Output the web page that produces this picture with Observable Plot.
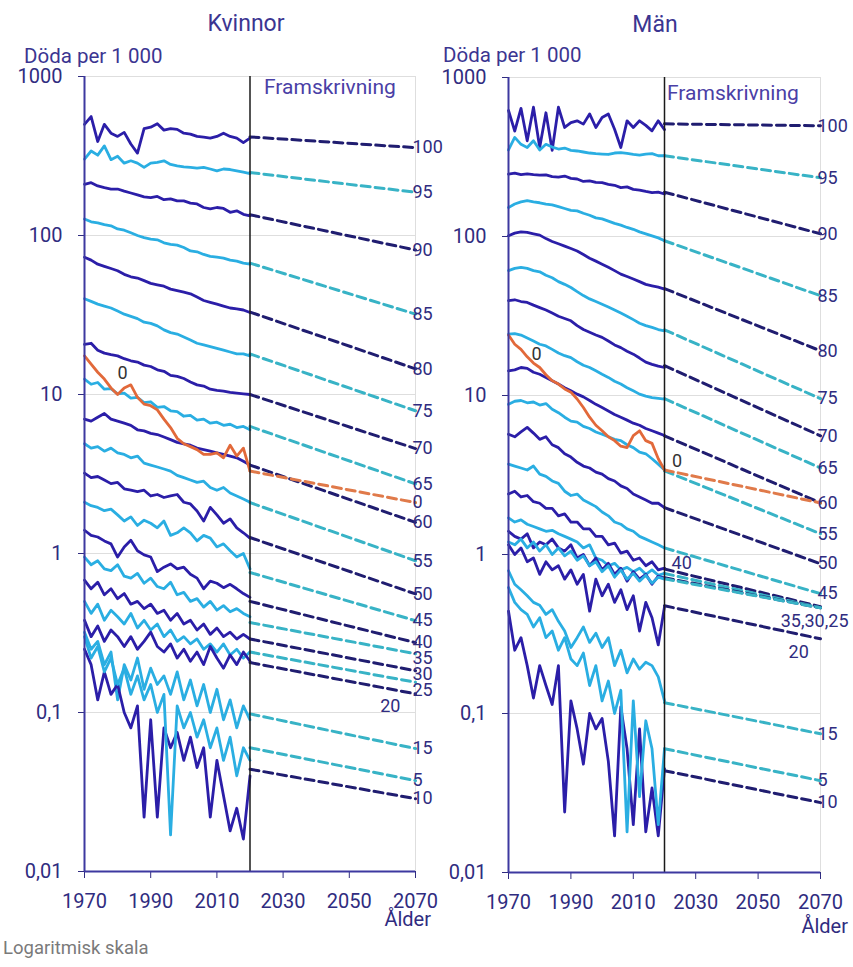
<!DOCTYPE html>
<html><head><meta charset="utf-8">
<script src="https://cdn.jsdelivr.net/npm/d3@7"></script>
<script src="https://cdn.jsdelivr.net/npm/@observablehq/plot@0.6"></script>
<style>
body{margin:0;background:#fff;font-family:Roboto,sans-serif;}
#wrap{position:relative;width:853px;height:967px;overflow:hidden;background:#fff;}
#wrap > svg{position:absolute;top:0;}
</style></head><body><div id="wrap"></div>
<script>
// ---------- data ----------
const years = [1970,1972,1974,1976,1978,1980,1982,1984,1986,1988,1990,1992,1994,1996,1998,2000,2002,2004,2006,2008,2010,2012,2014,2016,2018,2020];
const ages = [0,5,10,15,20,25,30,35,40,45,50,55,60,65,70,75,80,85,90,95,100];
const xTicks = [1970,1990,2010,2030,2050,2070];
const yTicks = [0.01,0.1,1,10,100,1000];
const yTickLabels = ["0,01","0,1","1","10","100","1000"];

// Kvinnor, deaths per 1 000 (historical)
const kv0 = [17.5,15.5,13.8,12.5,11,10,11,11.5,9.6,8.7,8.5,8,7,6.2,5.3,4.9,4.7,4.5,4.2,4.2,4.3,4.0,4.8,4.1,4.6,3.3];
const kv5 = [0.3,0.22,0.26,0.18,0.22,0.15,0.19,0.13,0.17,0.12,0.15,0.1,0.13,0.017,0.11,0.08,0.1,0.07,0.09,0.06,0.08,0.05,0.07,0.04,0.06,0.05];
const kv10 = [0.25,0.2,0.12,0.18,0.13,0.15,0.1,0.08,0.11,0.022,0.09,0.022,0.08,0.06,0.075,0.05,0.07,0.045,0.06,0.022,0.05,0.03,0.018,0.025,0.016,0.04];
const kv15 = [0.32,0.25,0.28,0.2,0.24,0.12,0.2,0.16,0.22,0.14,0.19,0.15,0.17,0.13,0.18,0.12,0.16,0.11,0.15,0.1,0.14,0.09,0.12,0.08,0.11,0.09];
const kv20 = [0.38,0.3,0.35,0.28,0.33,0.3,0.26,0.3,0.25,0.28,0.32,0.26,0.24,0.27,0.22,0.25,0.21,0.24,0.2,0.26,0.22,0.19,0.23,0.2,0.24,0.21];
const kv25 = [0.5,0.42,0.48,0.38,0.44,0.4,0.36,0.42,0.34,0.38,0.33,0.36,0.3,0.33,0.28,0.3,0.27,0.29,0.25,0.27,0.24,0.27,0.23,0.25,0.22,0.24];
const kv30 = [0.68,0.6,0.66,0.55,0.6,0.52,0.56,0.48,0.5,0.45,0.48,0.42,0.44,0.38,0.42,0.36,0.38,0.33,0.36,0.31,0.34,0.3,0.32,0.29,0.31,0.29];
const kv35 = [0.95,0.85,0.9,0.8,0.78,0.85,0.72,0.7,0.75,0.65,0.7,0.62,0.6,0.66,0.55,0.57,0.5,0.52,0.46,0.5,0.44,0.47,0.43,0.45,0.42,0.4];
const kv40 = [1.4,1.3,1.27,1.2,1.15,0.95,1.1,1.21,1.04,0.98,0.95,0.77,0.82,0.86,0.8,0.82,0.74,0.7,0.6,0.67,0.65,0.61,0.64,0.6,0.56,0.53];
const kv45 = [2.1,2.0,1.95,1.86,1.9,1.75,1.6,1.7,1.5,1.62,1.55,1.45,1.6,1.3,1.35,1.45,1.35,1.2,1.3,1.25,1.1,1.15,1.04,0.95,1.0,0.8];
const kv50 = [3.2,3.0,3.05,2.9,2.75,2.8,2.55,2.5,2.45,2.5,2.3,2.35,2.25,2.3,2.35,2.1,2.05,1.85,1.6,1.95,1.75,1.55,1.65,1.45,1.35,1.25];
const kv55 = [4.9,4.6,4.7,4.4,4.6,4.3,4.2,4.0,4.1,3.7,3.6,3.5,3.4,3.3,3.1,3.0,2.9,2.8,2.85,2.6,2.5,2.6,2.4,2.3,2.2,2.1];
const kv60 = [7.0,6.8,7.2,7.6,7.0,6.8,6.6,6.4,6.0,5.9,5.7,5.6,5.4,5.2,5.0,4.9,4.8,4.6,4.5,4.4,4.3,4.2,4.1,4.0,3.8,3.6];
const kv65 = [12.5,11.6,11.9,10.8,10.9,10.1,10.2,9.5,9.6,8.9,9.0,8.3,8.4,7.9,7.8,7.3,7.4,6.9,7.0,6.6,6.7,6.4,6.5,6.2,6.3,6.0];
const kv70 = [20.7,21,19,18.2,17.8,17.5,16.8,16.3,16,15.3,15,14.3,14,13.2,13,12.6,12,11.5,11.3,10.8,10.6,10.5,10.3,10.2,10.1,10];
const kv75 = [40,38.5,37,36,35,33.5,32,31,30,28.5,28,27,25.5,24.5,24,23,22,21,20.5,20,19.5,19,18.5,18,18,17.5];
const kv80 = [73,70,66,64,62,60,57,55,54,52,50,49,48,46,45,44,43,41,39,38,37,36,35,34.5,34,32.8];
const kv85 = [127,122,120,117,115,110,108,104,100,97,95,94,90,88,87,84,80,79,76,74,73,72,70,69,67,66];
const kv90 = [210,215,205,200,196,196,190,185,180,175,173,176,168,170,165,165,160,158,150,147,150,148,140,143,136,133];
const kv95 = [302,340,320,366,300,315,285,295,285,268,285,288,295,280,274,270,268,265,268,262,255,262,260,255,250,245];
const kv100 = [500,560,390,500,440,420,445,376,330,470,480,505,460,470,465,440,434,420,415,410,420,440,420,410,384,410];
// Kvinnor projection (Framskrivning), per age in order of `ages`
const kvProj2020 = [3.3,0.06,0.044,0.098,0.206,0.24,0.29,0.368,0.5,0.76,1.26,2.09,3.6,6.3,10,18,33,67,135,249,417];
const kvProj2070 = [2.09,0.0373,0.0287,0.0593,0.131,0.155,0.183,0.234,0.275,0.378,0.557,0.9,1.57,2.74,4.57,7.9,14.5,32,81,187,357];

// Män, deaths per 1 000 (historical)
const mn0 = [24,21,19.5,17.5,16,15,13.5,12.4,11.8,11,10.5,9.5,8.4,7.3,6.5,6.0,5.5,5.2,4.8,4.7,5.6,6.0,5.2,5.0,4.0,3.4];
const mn5 = [0.62,0.5,0.45,0.42,0.35,0.4,0.3,0.33,0.25,0.3,0.22,0.2,0.24,0.15,0.2,0.12,0.16,0.1,0.14,0.018,0.12,0.03,0.09,0.06,0.02,0.06];
const mn10 = [0.44,0.25,0.3,0.2,0.125,0.2,0.15,0.114,0.2,0.024,0.12,0.08,0.048,0.1,0.08,0.093,0.05,0.017,0.11,0.06,0.02,0.08,0.018,0.034,0.017,0.045];
const mn15 = [0.79,0.65,0.6,0.55,0.5,0.48,0.42,0.45,0.38,0.33,0.26,0.3,0.35,0.28,0.32,0.26,0.3,0.2,0.25,0.18,0.22,0.19,0.21,0.2,0.17,0.12];
const mn20 = [1.15,1.0,1.1,0.9,0.95,0.75,0.9,0.8,0.85,0.7,0.8,0.65,0.75,0.44,0.7,0.55,0.65,0.5,0.6,0.45,0.55,0.33,0.5,0.4,0.27,0.47];
const mn25 = [1.2,1.15,1.25,1.1,1.2,1.05,1.15,1.0,1.1,0.98,1.05,0.92,0.98,0.85,0.9,0.78,0.85,0.72,0.8,0.7,0.76,0.68,0.74,0.66,0.72,0.7];
const mn30 = [1.4,1.3,1.25,1.35,1.1,1.2,1.15,1.25,1.1,1.05,1.15,0.95,1.0,0.85,0.95,0.8,0.88,0.75,0.82,0.68,0.78,0.7,0.75,0.65,0.73,0.71];
const mn35 = [1.7,1.6,1.65,1.55,1.5,1.45,1.4,1.42,1.35,1.3,1.25,1.2,1.1,1.15,0.95,0.92,0.85,0.88,0.8,0.83,0.78,0.82,0.75,0.8,0.74,0.76];
const mn40 = [2.4,2.5,2.3,2.35,2.15,2.1,1.95,1.95,1.75,1.8,1.6,1.6,1.45,1.45,1.3,1.3,1.15,1.18,1.02,1.05,0.92,0.95,0.85,0.9,0.8,0.82];
const mn45 = [3.7,3.6,3.5,3.4,3.6,3.2,3.1,2.9,2.8,2.5,2.35,2.4,2.2,2.1,2.0,1.85,1.75,1.6,1.55,1.45,1.4,1.3,1.25,1.2,1.15,1.1];
const mn50 = [5.7,5.5,5.9,6.3,5.8,5.3,5.5,4.9,4.7,4.3,4.1,3.8,3.6,3.5,3.3,3.2,3.0,2.9,2.7,2.6,2.4,2.3,2.2,2.1,2.1,1.97];
const mn55 = [8.8,9.2,9.3,9.0,9.1,8.7,8.9,8.2,7.8,7.3,6.9,6.8,6.4,6.2,5.9,5.7,5.5,5.3,5.2,4.9,4.7,4.4,4.3,4.0,3.7,3.4];
const mn60 = [14.3,14.5,15,14.8,14,13.6,13,12.4,11.8,11.2,10.7,10.2,9.8,9.3,8.8,8.4,8,7.6,7.3,7,6.7,6.5,6.2,6.0,5.8,5.6];
const mn65 = [24.3,24.5,24,23,22,21,20.5,19.5,18.5,17.8,17.3,16.3,15.5,15,14.3,13.6,13,12.3,11.8,11.2,10.7,10.2,9.9,9.7,9.6,9.5];
const mn70 = [39.5,40,39,38.5,37,35.7,34.5,33,31.5,30.5,29.5,27.5,26,25,24,23.2,22,20.8,20,19,18.2,17.2,16.2,15.7,15.3,15];
const mn75 = [61,63,64,63,61,60,57,55,52,50,47.8,45,42.5,40.5,39,37.5,36,34.5,33,31.5,30,28.5,27.5,26.8,26,25.5];
const mn80 = [101,105,107,106,104,102,97,93,90,87,84,81,77,73,70,67,64,61,58,56,54,52,50,49,48,46.7];
const mn85 = [152,160,165,168,165,163,160,158,154,150,146,145,140,136,131,129,125,121,118,114,111,107,104,101,98,94];
const mn90 = [247,250,245,248,245,243,244,238,236,240,232,230,222,224,219,218,213,210,203,205,198,196,192,189,190,185];
const mn95 = [350,420,380,363,400,350,380,365,355,360,348,345,340,335,332,330,328,335,337,333,328,325,330,332,322,322];
const mn100 = [620,460,640,400,650,363,600,348,650,485,520,534,509,590,485,560,590,473,363,534,485,534,500,462,534,470];
// Män projection (Framskrivning)
const mnProj2020 = [3.4,0.06,0.0437,0.117,0.476,0.703,0.714,0.76,0.81,1.1,1.97,3.36,5.58,9.55,15.4,25.9,47,94,190,322,511];
const mnProj2070 = [2.11,0.0378,0.0275,0.0745,0.295,0.462,0.462,0.462,0.47,0.567,0.875,1.35,2.11,3.5,5.58,9.55,19.1,42.4,104,234,497];

const kvHist = [kv0,kv5,kv10,kv15,kv20,kv25,kv30,kv35,kv40,kv45,kv50,kv55,kv60,kv65,kv70,kv75,kv80,kv85,kv90,kv95,kv100];
const mnHist = [mn0,mn5,mn10,mn15,mn20,mn25,mn30,mn35,mn40,mn45,mn50,mn55,mn60,mn65,mn70,mn75,mn80,mn85,mn90,mn95,mn100];

// ---------- drawing ----------
const C = {dark:"#2b1ea8", light:"#2aaee2", darkP:"#201d70", lightP:"#38b3c6",
           orange:"#e2693a", orangeP:"#e07a4a", axis:"#3d38a0", text:"#302c80", grid:"#dedede"};

function panel(cfg){
  const {hist,p20,p70,endSkip,specials,W,H,mL,mR,mT,mB,left} = cfg;
  const ys = d3.scaleLog([0.01,1000],[H-mB, mT]);
  const kind = a => a===0 ? "orange" : (a%10===0 ? "dark" : "light");
  const hS = {dark:C.dark, light:C.light, orange:C.orange};
  const pS = {dark:C.darkP, light:C.lightP, orange:C.orangeP};
  const histRows = ages.map((a,i)=> hist[i].map((v,j)=>({age:a, year:years[j], v})));
  const projRows = ages.map((a,i)=> [{age:a,year:2020,v:p20[i]},{age:a,year:2070,v:p70[i]}]);
  const at = (age, year) => {
    const i = ages.indexOf(age);
    if (year >= 2020){ const t=(year-2020)/50; return Math.exp(Math.log(p20[i])*(1-t)+Math.log(p70[i])*t); }
    const s = hist[i], f=(year-1970)/2, j=Math.min(Math.floor(f), s.length-2), t=f-j;
    return Math.exp(Math.log(s[j])*(1-t)+Math.log(s[j+1])*t);
  };
  // end labels with simple collision avoidance
  const ends = ages.map((a,i)=>({text:String(a), py:ys(p70[i]), age:a})).filter(d=>!endSkip.includes(d.age));
  ends.sort((a,b)=>a.py-b.py);
  for (let i=1;i<ends.length;i++) if (ends[i].py < ends[i-1].py+16) ends[i].py = ends[i-1].py+16;
  ends.forEach(d=>{ d.year=2070; d.v=ys.invert(d.py); });
  const order = ages.slice().reverse();
  const marks = [
    Plot.ruleY(yTicks.slice(1), {stroke:C.grid}),
    Plot.ruleX([2070], {stroke:C.grid}),
    ...order.map(a => Plot.line(projRows[ages.indexOf(a)], {x:"year", y:"v", stroke:pS[kind(a)], strokeWidth:3, strokeDasharray:"9,5"})),
    ...order.map(a => Plot.line(histRows[ages.indexOf(a)], {x:"year", y:"v", stroke:hS[kind(a)], strokeWidth:2.8, strokeLinejoin:"round"})),
    Plot.ruleX([2020], {stroke:"#1a1a1a", strokeWidth:1.5}),
    Plot.ruleX([1970], {stroke:C.axis, strokeWidth:2}),
    Plot.ruleY([0.01], {stroke:C.axis, strokeWidth:2}),
    Plot.text(ends, {x:"year", y:"v", text:"text", textAnchor:"start", dx:-3, fill:C.text, fontSize:18}),
    ...specials.map(s => Plot.text([{x:s.year, y:at(s.age, s.year), t:s.text}],
        {x:"x", y:"y", text:"t", dx:s.dx||0, dy:s.dy||0, textAnchor:s.anchor||"middle", fill:s.fill||C.text, fontSize:18}))
  ];
  const svg = Plot.plot({
    width:W, height:H, marginLeft:mL, marginRight:mR, marginTop:mT, marginBottom:mB,
    style:{fontFamily:"Roboto, sans-serif", fontSize:"20px", color:C.text, background:"transparent", overflow:"visible"},
    x:{domain:[1970,2070], ticks:xTicks, tickFormat:d=>String(d), tickSize:7, tickPadding:15, label:null},
    y:{type:"log", domain:[0.01,1000], ticks:yTicks, tickFormat:d=>yTickLabels[yTicks.indexOf(d)], tickSize:6, tickPadding:16, label:null},
    marks
  });
  svg.style.left = left + "px";
  return svg;
}

const wrap = document.getElementById("wrap");
wrap.appendChild(panel({
  hist:kvHist, p20:kvProj2020, p70:kvProj2070, endSkip:[20],
  specials:[
    {text:"0", age:0, year:1981.5, dy:-16, fill:"#333"},
    {text:"20", age:20, year:2062.4, dy:17}
  ],
  W:437, H:967, mL:84, mR:22, mT:76, mB:96, left:0
}));
wrap.appendChild(panel({
  hist:mnHist, p20:mnProj2020, p70:mnProj2070, endSkip:[0,20,25,30,35,40],
  specials:[
    {text:"0", age:0, year:1979, dy:-11, fill:"#333"},
    {text:"0", age:0, year:2024, dy:-11, fill:"#333"},
    {text:"40", age:40, year:2025.5, dy:-10},
    {text:"35,30,25", age:35, year:2070, anchor:"end", dx:28, dy:13},
    {text:"20", age:20, year:2063, dy:18}
  ],
  W:416, H:967, mL:71, mR:33, mT:77, mB:95, left:437
}));

// titles and annotations
const ov = d3.create("svg").attr("width",853).attr("height",967)
  .style("left","0px").style("pointer-events","none").attr("font-family","Roboto, sans-serif");
const T = [
  {t:"Kvinnor", x:246, y:31, a:"middle", s:23, c:"#3b3591"},
  {t:"Män", x:655, y:32, a:"middle", s:23, c:"#3b3591"},
  {t:"Döda per 1 000", x:24, y:63, a:"start", s:20.5, c:"#3b3591"},
  {t:"Döda per 1 000", x:443, y:62, a:"start", s:20.5, c:"#3b3591"},
  {t:"Framskrivning", x:264, y:94, a:"start", s:21, c:"#4a40a6"},
  {t:"Framskrivning", x:667, y:100, a:"start", s:21, c:"#4a40a6"},
  {t:"Ålder", x:431, y:926, a:"end", s:20, c:C.text},
  {t:"Ålder", x:848, y:933, a:"end", s:20, c:C.text},
  {t:"Logaritmisk skala", x:3, y:954, a:"start", s:18.5, c:"#7a7a7a"}
];
ov.selectAll("text").data(T).join("text")
  .attr("x",d=>d.x).attr("y",d=>d.y).attr("text-anchor",d=>d.a)
  .attr("font-size",d=>d.s).attr("fill",d=>d.c).text(d=>d.t);
wrap.appendChild(ov.node());
</script>
</body></html>
